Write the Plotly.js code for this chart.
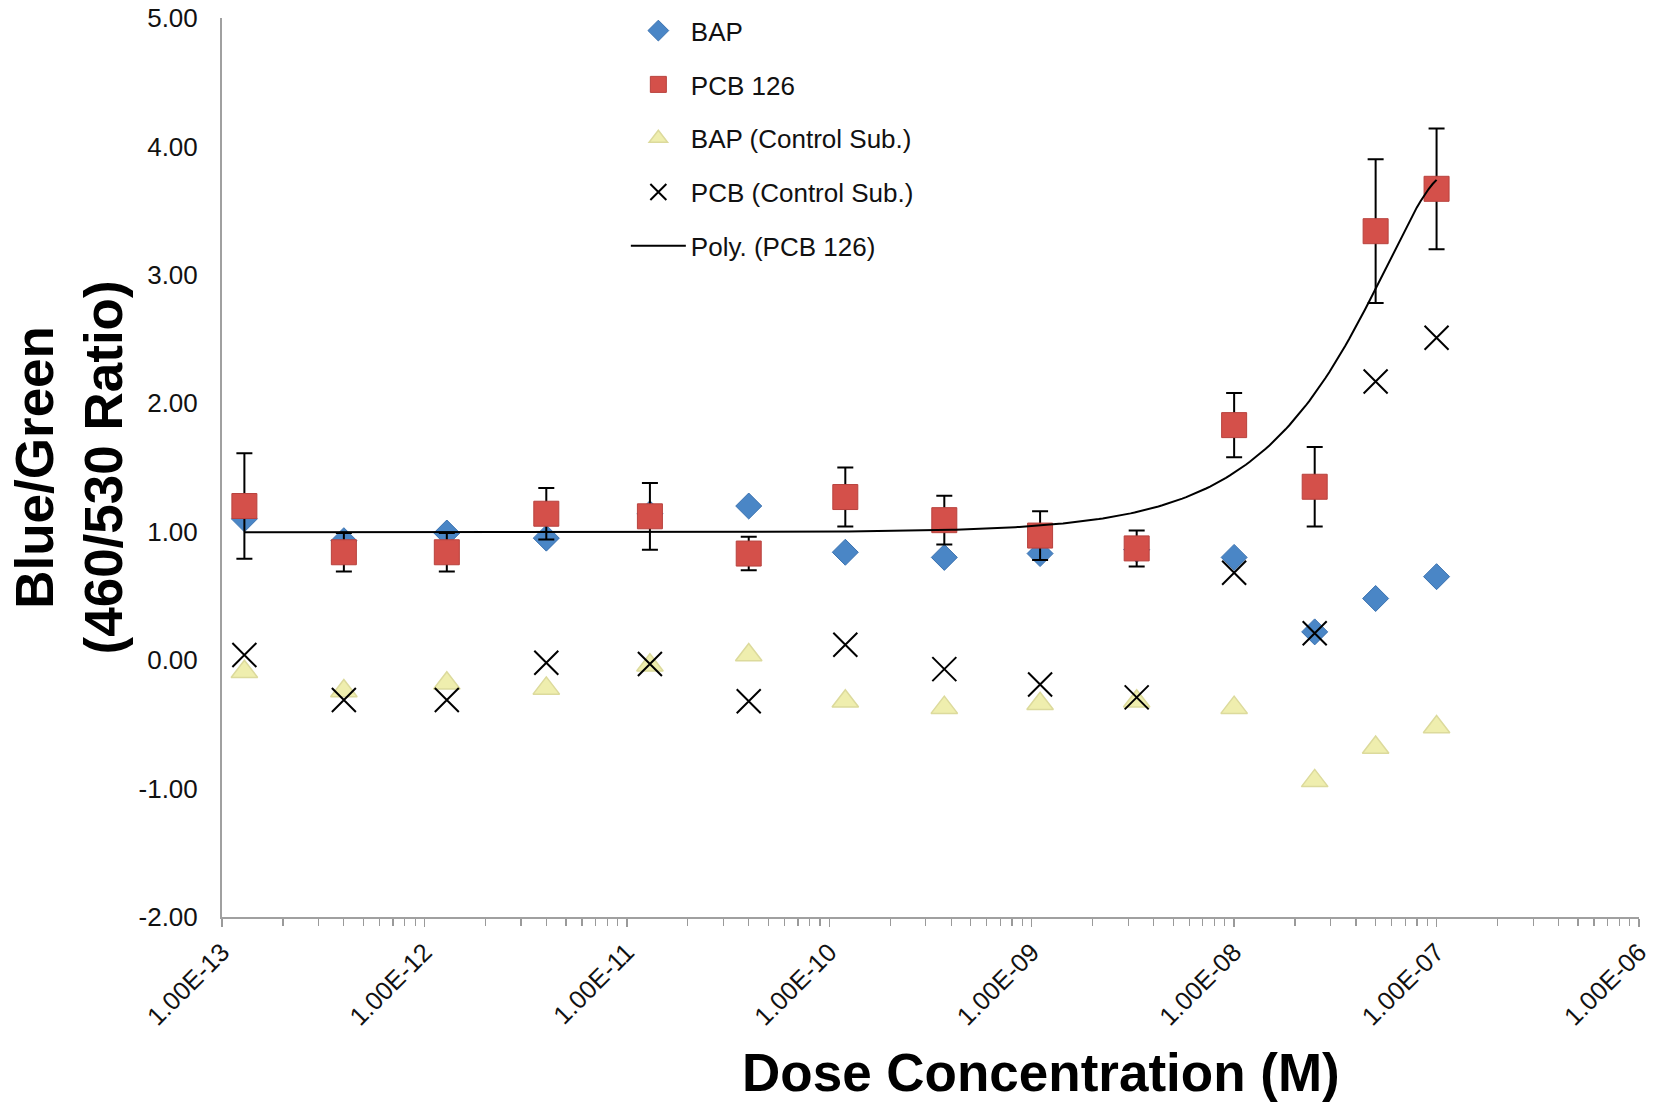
<!DOCTYPE html>
<html><head><meta charset="utf-8">
<script src="https://cdn.plot.ly/plotly-3.0.1.min.js"></script>
<style>html,body{margin:0;padding:0;background:#fff}#chart{width:1656px;height:1105px}</style>
</head><body><div id="chart"></div><script>
// ---- data ----
const doses = [1.29e-13, 4e-13, 1.29e-12, 4e-12, 1.3e-11, 4e-11, 1.2e-10, 3.7e-10, 1.1e-9, 3.3e-9, 1e-8, 2.5e-8, 5e-8, 1e-7];
const bap = [1.10, 0.93, 0.99, 0.95, 1.14, 1.20, 0.84, 0.80, 0.83, 0.86, 0.80, 0.22, 0.48, 0.65];
const pcb126 = [1.20, 0.84, 0.84, 1.14, 1.12, 0.83, 1.27, 1.09, 0.97, 0.87, 1.83, 1.35, 3.34, 3.67];
const pcb126Err = [0.41, 0.15, 0.15, 0.20, 0.26, 0.13, 0.23, 0.19, 0.19, 0.14, 0.25, 0.31, 0.56, 0.47];
const bapCtrl = [-0.09, -0.24, -0.18, -0.22, -0.04, 0.04, -0.32, -0.37, -0.34, -0.32, -0.37, -0.94, -0.68, -0.52];
const pcbCtrl = [0.04, -0.31, -0.31, -0.02, -0.03, -0.32, 0.12, -0.07, -0.19, -0.29, 0.68, 0.21, 2.17, 2.51];
const seriesNames = ['BAP', 'PCB 126', 'BAP (Control Sub.)', 'PCB (Control Sub.)', 'Poly. (PCB 126)'];
const xTickVals = [1e-13, 1e-12, 1e-11, 1e-10, 1e-9, 1e-8, 1e-7, 1e-6];
const xTickText = ['1.00E-13', '1.00E-12', '1.00E-11', '1.00E-10', '1.00E-09', '1.00E-08', '1.00E-07', '1.00E-06'];
const yTickVals = [-2, -1, 0, 1, 2, 3, 4, 5];
const yTickText = ['-2.00', '-1.00', '0.00', '1.00', '2.00', '3.00', '4.00', '5.00'];

// ---- order-2 polynomial trendline (least squares on linear x, as the spreadsheet does) ----
function polyfit2(xs, ys) {
  const s = 1e8; // rescale for numeric stability
  const S = [0, 0, 0, 0, 0], T = [0, 0, 0];
  xs.forEach((x0, i) => {
    const x = x0 * s;
    for (let k = 0; k < 5; k++) S[k] += Math.pow(x, k);
    for (let k = 0; k < 3; k++) T[k] += Math.pow(x, k) * ys[i];
  });
  const A = [[S[0], S[1], S[2], T[0]], [S[1], S[2], S[3], T[1]], [S[2], S[3], S[4], T[2]]];
  for (let c = 0; c < 3; c++) {
    for (let r = c + 1; r < 3; r++) {
      const f = A[r][c] / A[c][c];
      for (let k = c; k < 4; k++) A[r][k] -= f * A[c][k];
    }
  }
  const coef = [0, 0, 0];
  for (let r = 2; r >= 0; r--) {
    let v = A[r][3];
    for (let k = r + 1; k < 3; k++) v -= A[r][k] * coef[k];
    coef[r] = v / A[r][r];
  }
  return x0 => { const x = x0 * s; return coef[0] + coef[1] * x + coef[2] * x * x; };
}
const fit = polyfit2(doses, pcb126);
const trendX = [], trendY = [];
const lo = Math.log10(doses[0]), hi = Math.log10(doses[doses.length - 1]);
for (let i = 0; i <= 300; i++) {
  const x = Math.pow(10, lo + (hi - lo) * i / 300);
  trendX.push(x); trendY.push(fit(x));
}

const FONT = 'Liberation Sans, Arial, Helvetica, sans-serif';
const traces = [
  { x: doses, y: bap, name: seriesNames[0], legendgroup: 'g1', mode: 'markers', type: 'scatter',
    marker: { symbol: 'diamond', size: 20, color: '#4a86c6', line: { color: '#3b72b0', width: 1 } } },
  { x: doses, y: pcb126, name: seriesNames[1], legendgroup: 'g2', mode: 'markers', type: 'scatter',
    marker: { symbol: 'square', size: 25, color: '#d4504a', line: { color: '#b8423d', width: 1 } },
    error_y: { type: 'data', array: pcb126Err, visible: true, color: '#000', thickness: 2, width: 8 } },
  { x: doses, y: bapCtrl, name: seriesNames[2], legendgroup: 'g3', mode: 'markers', type: 'scatter',
    marker: { symbol: 'triangle-up', size: 23, color: '#efeeae', line: { color: '#dcda9c', width: 1.5 } } },
  { x: doses, y: pcbCtrl, name: seriesNames[3], legendgroup: 'g4', mode: 'markers', type: 'scatter',
    marker: { symbol: 'x-thin-open', size: 24, color: '#000', line: { color: '#000', width: 2 } } },
  { x: trendX, y: trendY, name: seriesNames[4], legendgroup: 'g5', mode: 'lines', type: 'scatter',
    line: { color: '#000', width: 2 } }
];

const layout = {
  width: 1656, height: 1105,
  margin: { l: 222, r: 17, t: 18, b: 188, pad: 0, autoexpand: false },
  paper_bgcolor: '#fff', plot_bgcolor: '#fff',
  font: { family: FONT, color: '#111' },
  showlegend: true,
  legend: { xref: 'paper', yref: 'container', x: 0.285, y: 0.9935, xanchor: 'left', yanchor: 'top',
    font: { family: FONT, size: 26, color: '#111' },
    itemwidth: 55, tracegroupgap: 17, bgcolor: 'rgba(0,0,0,0)', borderwidth: 0 },
  xaxis: { type: 'log', range: [-13, -6], tickmode: 'array', tickvals: xTickVals, ticktext: xTickText,
    tickangle: -45, tickfont: { family: FONT, size: 25.5, color: '#111' },
    ticks: 'outside', ticklen: 8, tickwidth: 1.5, tickcolor: '#9a9a9a',
    minor: { dtick: 'D1', ticks: 'outside', ticklen: 7, tickwidth: 1.2, tickcolor: '#9a9a9a', showgrid: false },
    showline: true, linecolor: '#a0a0a0', linewidth: 2, showgrid: false, zeroline: false },
  xaxis2: { type: 'log', range: [-13, -6], overlaying: 'x', anchor: 'y', side: 'bottom', tickmode: 'array',
    tickvals: xTickVals, ticks: 'inside', ticklen: 8, tickwidth: 1.5, tickcolor: '#9a9a9a',
    showticklabels: false, showline: false, showgrid: false, zeroline: false },
  yaxis: { range: [-2, 5], tickmode: 'array', tickvals: yTickVals, ticktext: yTickText,
    tickfont: { family: FONT, size: 26, color: '#111' }, ticks: '', ticklabelstandoff: 17,
    showline: true, linecolor: '#a0a0a0', linewidth: 2, showgrid: false, zeroline: false },
  annotations: [
    { text: '<b>Blue/Green<br>(460/530 Ratio)</b>', textangle: -90, xref: 'paper', yref: 'paper',
      x: -0.108, y: 0.5, xanchor: 'center', yanchor: 'middle', showarrow: false,
      font: { family: FONT, size: 53, color: '#000' } },
    { text: '<b>Dose Concentration (M)</b>', xref: 'paper', yref: 'paper',
      x: 0.578, y: -0.1735, xanchor: 'center', yanchor: 'middle', showarrow: false,
      font: { family: FONT, size: 53, color: '#000' } }
  ]
};

Plotly.newPlot('chart', traces, layout, { displayModeBar: false, staticPlot: true });
</script></body></html>
